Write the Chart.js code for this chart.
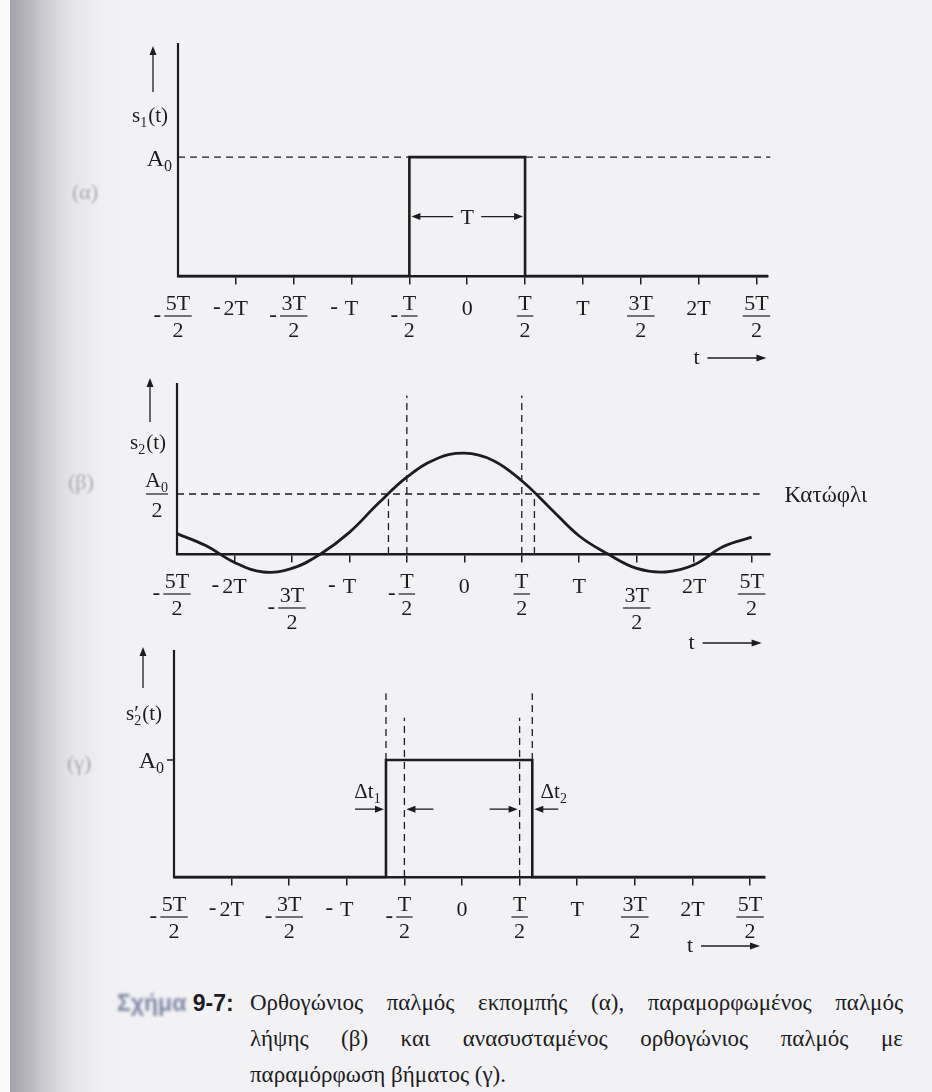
<!DOCTYPE html>
<html lang="el">
<head>
<meta charset="utf-8">
<title>Σχήμα 9-7</title>
<script src="https://cdn.jsdelivr.net/npm/chart.js@4.4.0/dist/chart.umd.min.js"></script>
<style>
  html, body { margin: 0; padding: 0; }
  body {
    width: 932px; height: 1092px; overflow: hidden; position: relative;
    background: #f2f2f4;
    font-family: "Liberation Serif", "DejaVu Serif", serif;
    color: #1d1d1f;
  }
  #edge { position: absolute; left: 0; top: 0; width: 10px; height: 1092px; background: #fafafa; }
  #shade {
    position: absolute; left: 10px; top: 0; width: 130px; height: 1092px;
    background: linear-gradient(to right, #a2a2aa 0px, #b2b2b9 14px, #cfcfd4 38px, #e6e6e9 62px, #f0f0f2 92px, rgba(242,242,244,0) 130px);
  }
  canvas { position: absolute; left: 0; }
  .tag {
    position: absolute; font-size: 22px; line-height: 24px; color: #a8a8b1;
    filter: blur(1.3px);
  }
  #fig { position: absolute; left: 117px; top: 985px; font: bold 23px/36px "Liberation Sans", Arial, sans-serif; }
  #fig span { color: #7f86a3; filter: blur(1.4px); display: inline-block; }
  #caption { position: absolute; left: 250px; top: 985px; width: 653px; font-size: 23px; line-height: 36px; }
  #caption .j { text-align: justify; text-align-last: justify; }
</style>
</head>
<body>
<div id="edge"></div>
<div id="shade"></div>

<canvas id="chartA" width="932" height="370" style="top:0px"></canvas>
<canvas id="chartB" width="932" height="290" style="top:370px"></canvas>
<canvas id="chartC" width="932" height="320" style="top:640px"></canvas>

<div class="tag" style="left:72px; top:180px">(α)</div>
<div class="tag" style="left:68px; top:470px">(β)</div>
<div class="tag" style="left:67px; top:751px">(γ)</div>

<div id="fig"><span>Σχήμα</span> 9-7:</div>
<div id="caption">
  <div class="j">Ορθογώνιος παλμός εκπομπής (α), παραμορφωμένος παλμός</div>
  <div class="j">λήψης (β) και ανασυσταμένος ορθογώνιος παλμός με</div>
  <div>παραμόρφωση βήματος (γ).</div>
</div>

<script>
const INK = '#1d1d1f';
const SERIF = '"Liberation Serif", "DejaVu Serif", serif';

// Time axis, in units of T
const tickValues = [-2.5, -2, -1.5, -1, -0.5, 0, 0.5, 1, 1.5, 2, 2.5];
const tickLabels = ['-5T/2', '-2T', '-3T/2', '-T', '-T/2', '0', 'T/2', 'T', '3T/2', '2T', '5T/2'];

// (α) transmitted rectangular pulse, amplitude in units of A0
const s1Times = [-2.5, -0.5, -0.5, 0.5, 0.5, 2.6];
const s1Values = [0, 0, 1, 1, 0, 0];
const s1AxisEnd = 2.6;
const s1Top = 1.96;
const a0LineEnd = 2.62;
const widthArrowLevel = 0.5;

// (β) distorted received pulse
const s2Times = [-2.5, -2.25, -2, -1.75, -1.5, -1.25, -1, -0.75, -0.5, -0.25, 0,
                 0.25, 0.5, 0.75, 1, 1.25, 1.5, 1.75, 2, 2.25, 2.5];
const s2Values = [0.17, 0.07, -0.07, -0.15, -0.12, 0, 0.18, 0.42, 0.64, 0.79, 0.84,
                  0.78, 0.61, 0.38, 0.15, 0, -0.12, -0.15, -0.09, 0.06, 0.14];
const threshold = 0.5;
const thresholdEnd = 2.57;
const crossTimes = [-0.66, 0.61];   // where s2 passes the threshold
const s2AxisEnd = 2.66;
const s2Top = 1.425;
const s2Bottom = -0.3;
const halfGuideTop = 1.32;

// (γ) reconstructed pulse, edges at the threshold crossings
const s3Times = [-2.5, crossTimes[0], crossTimes[0], crossTimes[1], crossTimes[1], 2.63];
const s3Values = [0, 0, 1, 1, 0, 0];
const s3AxisEnd = 2.63;
const s3Top = 1.94;
const edgeGuideTop = 1.57;
const halfGuideTop3 = 1.36;
const deltaArrowLevel = 0.58;
const deltaLabelLevel = 0.735;

function pts(xs, ys) {
    return xs.map((x, i) => ({ x: x, y: ys[i] }));
}

function solid(xs, ys, width) {
    return { data: pts(xs, ys), borderColor: INK, borderWidth: width, pointRadius: 0,
             borderJoinStyle: 'miter', clip: false };
}

function dashed(xs, ys) {
    return { data: pts(xs, ys), borderColor: INK, borderWidth: 1.3, borderDash: [7, 5],
             pointRadius: 0, clip: false };
}

function options(xMax, yMin, yMax, pad) {
    return {
        responsive: false,
        animation: false,
        devicePixelRatio: 1,
        events: [],
        layout: { padding: pad },
        plugins: { legend: { display: false }, tooltip: { enabled: false } },
        scales: {
            x: {
                type: 'linear', min: -2.5, max: xMax,
                position: { y: 0 },
                afterFit: (s) => { s.height = 0; },
                afterBuildTicks: (s) => {
                    s.ticks = tickValues.filter(v => v > -2.5).map(v => ({ value: v }));
                },
                ticks: { display: false },
                grid: { drawOnChartArea: false, drawTicks: true, tickLength: 7, color: INK, lineWidth: 1.5 },
                border: { display: true, color: INK, width: 2.5 },
            },
            y: { type: 'linear', min: yMin, max: yMax, display: false },
        },
    };
}

// Drawing helpers for the annotations
function text(ctx, str, x, yc, size, align) {
    ctx.font = size + 'px ' + SERIF;
    ctx.textAlign = align || 'center';
    ctx.textBaseline = 'alphabetic';
    ctx.fillStyle = INK;
    ctx.fillText(str, x, yc + size * 0.33);
}

function subLabel(ctx, base, sub, tail, x, yc, size, align, prime) {
    const small = Math.round(size * 0.65);
    ctx.font = size + 'px ' + SERIF;
    const wb = ctx.measureText(base).width;
    const wt = ctx.measureText(tail).width;
    ctx.font = small + 'px ' + SERIF;
    const ws = ctx.measureText(sub).width + 1;
    const total = wb + ws + wt;
    let left = x - total / 2;
    if (align === 'right') left = x - total;
    if (align === 'left') left = x;
    const yb = yc + size * 0.33;
    ctx.fillStyle = INK;
    ctx.textAlign = 'left';
    ctx.textBaseline = 'alphabetic';
    ctx.font = size + 'px ' + SERIF;
    ctx.fillText(base, left, yb);
    if (prime) ctx.fillText(prime, left + wb, yb);
    ctx.font = small + 'px ' + SERIF;
    ctx.fillText(sub, left + wb, yb + size * 0.22);
    ctx.font = size + 'px ' + SERIF;
    ctx.fillText(tail, left + wb + ws, yb);
}

function arrow(ctx, x1, y1, x2, y2, head, half) {
    head = head || 9;
    half = half || 3.5;
    const a = Math.atan2(y2 - y1, x2 - x1);
    const c = Math.cos(a), s = Math.sin(a);
    ctx.strokeStyle = INK;
    ctx.fillStyle = INK;
    ctx.lineWidth = 1.3;
    ctx.setLineDash([]);
    ctx.beginPath();
    ctx.moveTo(x1, y1);
    ctx.lineTo(x2 - c * head * 0.8, y2 - s * head * 0.8);
    ctx.stroke();
    ctx.beginPath();
    ctx.moveTo(x2, y2);
    ctx.lineTo(x2 - c * head - s * half, y2 - s * head + c * half);
    ctx.lineTo(x2 - c * head + s * half, y2 - s * head - c * half);
    ctx.closePath();
    ctx.fill();
}

function yAxisLine(ctx, x, top, bottom) {
    ctx.strokeStyle = INK;
    ctx.lineWidth = 2.2;
    ctx.setLineDash([]);
    ctx.beginPath();
    ctx.moveTo(x, top);
    ctx.lineTo(x, bottom + 1);
    ctx.stroke();
}

function hBar(ctx, x1, x2, y) {
    ctx.strokeStyle = INK;
    ctx.lineWidth = 1.2;
    ctx.setLineDash([]);
    ctx.beginPath();
    ctx.moveTo(x1, y);
    ctx.lineTo(x2, y);
    ctx.stroke();
}

// Fraction-style labels under the time axis
function tickText(ctx, xs, yBase, lowered) {
    tickValues.forEach((v, i) => {
        const px = xs.getPixelForValue(v);
        let label = tickLabels[i];
        const neg = label.startsWith('-');
        if (neg) label = label.slice(1);
        const drop = lowered.includes(v) ? 14 : 0;
        ctx.font = '22px ' + SERIF;
        let left, minusY;
        if (label.includes('/')) {
            const parts = label.split('/');
            const w = Math.max(ctx.measureText(parts[0]).width + 3, 16);
            text(ctx, parts[0], px, yBase + 27 + drop, 22);
            hBar(ctx, px - w / 2, px + w / 2, yBase + 40 + drop);
            text(ctx, parts[1], px, yBase + 54 + drop, 22);
            left = px - w / 2 - 3;
            minusY = yBase + 40 + drop;
        } else {
            const w = ctx.measureText(label).width;
            text(ctx, label, px, yBase + 32 + drop, 22);
            left = px - w / 2 - (label === 'T' ? 7 : 3);
            minusY = yBase + 32 + drop;
        }
        // minus sign hangs to the left of the number
        if (neg) text(ctx, '-', left, minusY - 1.5, 23, 'right');
    });
}

function timeArrow(ctx, xs, y) {
    const xe = xs.getPixelForValue(2.5);
    text(ctx, 't', xe - 60, y, 22);
    arrow(ctx, xe - 49, y + 1, xe + 10, y + 1, 10, 3.5);
}

function overlay(draw) {
    return {
        id: 'overlay',
        afterDraw(chart) {
            const ctx = chart.ctx;
            ctx.save();
            draw(chart, ctx, chart.scales.x, chart.scales.y);
            ctx.restore();
        },
    };
}

// (α)
function drawPanelA(chart, ctx, xs, ys) {
    const x0 = xs.getPixelForValue(-2.5);
    const yBase = ys.getPixelForValue(0);
    yAxisLine(ctx, x0, chart.chartArea.top, yBase);
    arrow(ctx, x0 - 25, 92, x0 - 25, 46);
    subLabel(ctx, 's', '1', '(t)', x0 - 28, 115, 21, 'center');
    subLabel(ctx, 'A', '0', '', x0 - 5, ys.getPixelForValue(1) + 1, 24, 'right');

    const yT = ys.getPixelForValue(widthArrowLevel);
    const xm = xs.getPixelForValue(0);
    arrow(ctx, xm - 14, yT, xs.getPixelForValue(-0.5) + 2, yT);
    arrow(ctx, xm + 14, yT, xs.getPixelForValue(0.5) - 2, yT);
    text(ctx, 'T', xm, yT, 22);

    tickText(ctx, xs, yBase, []);
    timeArrow(ctx, xs, yBase + 81);
}

// (β)
function drawPanelB(chart, ctx, xs, ys) {
    const x0 = xs.getPixelForValue(-2.5);
    const yBase = ys.getPixelForValue(0);
    yAxisLine(ctx, x0, chart.chartArea.top, yBase);
    arrow(ctx, x0 - 27, 52, x0 - 27, 8);
    subLabel(ctx, 's', '2', '(t)', x0 - 29, 72, 21, 'center');

    const yTh = ys.getPixelForValue(threshold);
    const fx = x0 - 20;
    subLabel(ctx, 'A', '0', '', fx, yTh - 14, 22, 'center');
    hBar(ctx, fx - 11, fx + 11, yTh);
    text(ctx, '2', fx, yTh + 16, 22);
    text(ctx, 'Κατώφλι', xs.getPixelForValue(2.5) + 33, yTh, 23, 'left');

    tickText(ctx, xs, yBase, [-1.5, 1.5]);
    timeArrow(ctx, xs, yBase + 88);
}

// (γ)
function drawPanelC(chart, ctx, xs, ys) {
    const x0 = xs.getPixelForValue(-2.5);
    const yBase = ys.getPixelForValue(0);
    const yA = ys.getPixelForValue(1);
    yAxisLine(ctx, x0, chart.chartArea.top, yBase);
    arrow(ctx, x0 - 31, 48, x0 - 31, 7);
    subLabel(ctx, 's', '2', '(t)', x0 - 30, 73, 21, 'center', '′');
    subLabel(ctx, 'A', '0', '', x0 - 9, yA, 24, 'right');
    ctx.strokeStyle = INK;
    ctx.lineWidth = 1.5;
    ctx.beginPath();
    ctx.moveTo(x0 - 7, yA);
    ctx.lineTo(x0, yA);
    ctx.stroke();

    const ya = ys.getPixelForValue(deltaArrowLevel);
    const eL = xs.getPixelForValue(crossTimes[0]);
    const eR = xs.getPixelForValue(crossTimes[1]);
    const hL = xs.getPixelForValue(-0.5);
    const hR = xs.getPixelForValue(0.5);
    arrow(ctx, eL - 31, ya, eL - 2, ya);
    arrow(ctx, hL + 29, ya, hL + 2, ya);
    arrow(ctx, hR - 30, ya, hR - 2, ya);
    arrow(ctx, eR + 26, ya, eR + 2, ya);
    const yl = ys.getPixelForValue(deltaLabelLevel);
    subLabel(ctx, 'Δt', '1', '', eL - 18, yl, 21, 'center');
    subLabel(ctx, 'Δt', '2', '', eR + 22, yl, 21, 'center');

    tickText(ctx, xs, yBase, []);
    timeArrow(ctx, xs, yBase + 68);
}

// Chart setup
new Chart(document.getElementById('chartA'), {
    type: 'line',
    data: {
        datasets: [
            dashed([-2.5, a0LineEnd], [1, 1]),
            solid(s1Times, s1Values, 2.6),
        ],
    },
    options: options(s1AxisEnd, 0, s1Top, { left: 178, right: 164, top: 43, bottom: 94 }),
    plugins: [overlay(drawPanelA)],
});

new Chart(document.getElementById('chartB'), {
    type: 'line',
    data: {
        datasets: [
            dashed([-2.5, thresholdEnd], [threshold, threshold]),
            dashed([-0.5, -0.5], [0, halfGuideTop]),
            dashed([0.5, 0.5], [0, halfGuideTop]),
            dashed([crossTimes[0], crossTimes[0]], [0, threshold]),
            dashed([crossTimes[1], crossTimes[1]], [0, threshold]),
            Object.assign(solid(s2Times, s2Values, 2.8), { tension: 0.4 }),
        ],
    },
    options: options(s2AxisEnd, s2Bottom, s2Top, { left: 177, right: 162, top: 13, bottom: 70 }),
    plugins: [overlay(drawPanelB)],
});

new Chart(document.getElementById('chartC'), {
    type: 'line',
    data: {
        datasets: [
            dashed([crossTimes[0], crossTimes[0]], [1, edgeGuideTop]),
            dashed([crossTimes[1], crossTimes[1]], [1, edgeGuideTop]),
            dashed([-0.5, -0.5], [0, halfGuideTop3]),
            dashed([0.5, 0.5], [0, halfGuideTop3]),
            solid(s3Times, s3Values, 2.6),
        ],
    },
    options: options(s3AxisEnd, 0, s3Top, { left: 174, right: 167, top: 10, bottom: 83 }),
    plugins: [overlay(drawPanelC)],
});
</script>
</body>
</html>
